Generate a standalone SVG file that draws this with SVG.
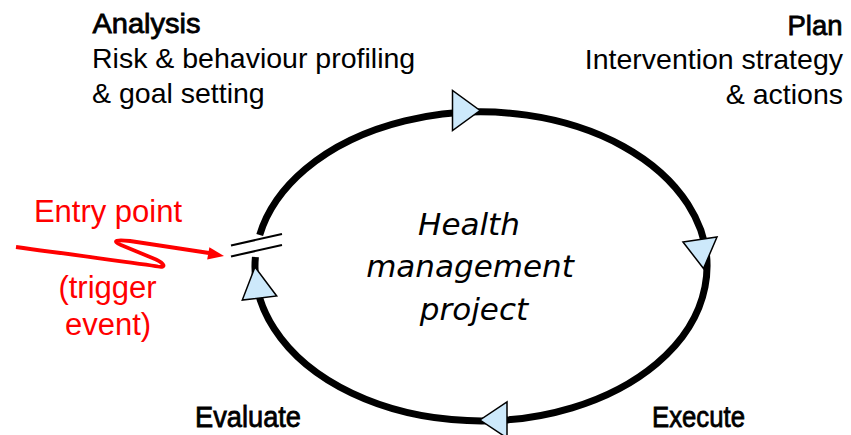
<svg xmlns="http://www.w3.org/2000/svg" width="851" height="435" viewBox="0 0 851 435">
<style>
.hd{font-family:"Liberation Sans",Arial,sans-serif;font-size:28.5px;fill:#000;stroke:#000;stroke-width:0.8}
.hb{font-size:30px}
.tx{font-family:"Liberation Sans",Arial,sans-serif;font-size:28.5px;fill:#000}
.red{font-family:"Liberation Sans",Arial,sans-serif;font-size:31px;fill:#ff0000;text-anchor:middle}
.ctr{font-family:"DejaVu Sans",sans-serif;font-style:italic;font-size:31px;fill:#000;text-anchor:middle}
.tri{fill:#cde9fb;stroke:#000;stroke-width:1.5;stroke-linejoin:miter}
.cyc{fill:none;stroke:#000;stroke-width:7;stroke-linecap:butt}
.brk{stroke:#000;stroke-width:2}
</style>
<rect width="851" height="435" fill="#fff"/>
<g id="connectors">
  <path class="cyc" d="M255.4,257 A226,154.5 0 1 0 259.7,235"/>
  <line class="brk" x1="231" y1="245.5" x2="282" y2="234"/>
  <line class="brk" x1="231" y1="256.5" x2="282" y2="245"/>
  <polygon class="tri" points="452.5,90.5 452.5,130.5 480,110.5"/>
  <polygon class="tri" points="683,242 717,237 703.5,268.5"/>
  <polygon class="tri" points="507,402 507,438 480,420"/>
  <polygon class="tri" points="255,267 242.3,300 276.7,296"/>
  <path d="M16,247 C80,256 145,264 158,266.5 C167,268 164,263.5 156,259.5 L121,245 C111,240.5 117,239.5 130,241 L209,253" fill="none" stroke="#ff0000" stroke-width="3.8" stroke-linejoin="round"/>
  <polygon points="224,256 207.2,259.4 209.4,247.2" fill="#ff0000"/>
</g>
<g id="analysis">
  <text class="hd" x="92.5" y="33" textLength="108" lengthAdjust="spacingAndGlyphs">Analysis</text>
  <text class="tx" x="92" y="68">Risk &amp; behaviour profiling</text>
  <text class="tx" x="92" y="103">&amp; goal setting</text>
</g>
<g id="plan">
  <text class="hd" x="787.5" y="35" textLength="55" lengthAdjust="spacingAndGlyphs">Plan</text>
  <text class="tx" x="843" y="69" text-anchor="end">Intervention strategy</text>
  <text class="tx" x="843" y="104" text-anchor="end">&amp; actions</text>
</g>
<g id="execute">
  <text class="hd hb" x="652" y="427" textLength="93" lengthAdjust="spacingAndGlyphs">Execute</text>
</g>
<g id="evaluate">
  <text class="hd hb" x="195" y="427" textLength="106" lengthAdjust="spacingAndGlyphs">Evaluate</text>
</g>
<g id="entry">
  <text class="red" x="108" y="222">Entry point</text>
  <text class="red" x="107.5" y="298">(trigger</text>
  <text class="red" x="108" y="335">event)</text>
</g>
<g id="project">
  <text class="ctr" x="469" y="235">Health</text>
  <text class="ctr" x="470" y="277">management</text>
  <text class="ctr" x="474" y="320">project</text>
</g>
</svg>
